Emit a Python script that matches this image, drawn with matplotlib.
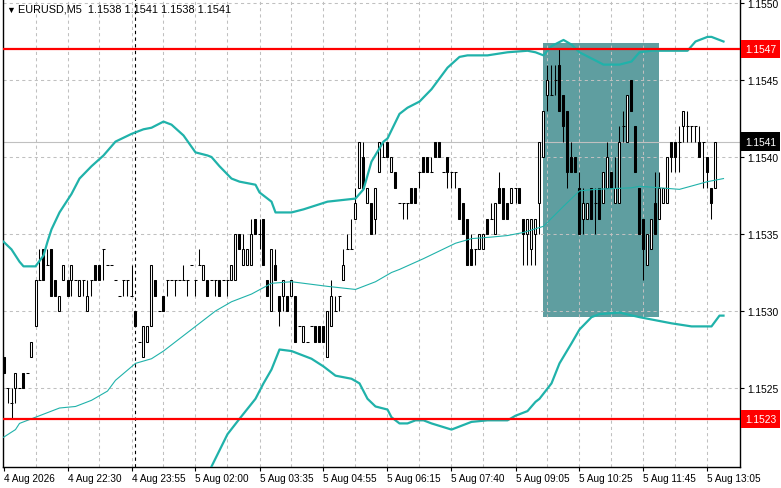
import matplotlib
matplotlib.use("Agg")
import matplotlib.pyplot as plt
import matplotlib.transforms as mtransforms
from matplotlib.patches import Rectangle

plt.rcParams["font.family"] = ["Liberation Sans", "DejaVu Sans"]
plt.rcParams["font.size"] = 7

# === data: EURUSD M5 bars (index = bar number) ===
opens = [
    1.1527, 1.1525, 1.1524, 1.1525, 1.1525, 1.1526, 1.1526, 1.1527, 1.1529, 1.1532,
    1.1534, 1.1533, 1.1534, 1.1532, 1.1530, 1.1532, 1.1532, 1.1532, 1.1532, 1.1531,
    1.1532, 1.1530, 1.1532, 1.1533, 1.1533, 1.1534, 1.1533, 1.1533, 1.1532, 1.1531,
    1.1532, 1.1532, 1.1531, 1.1530, 1.1528, 1.1527, 1.1528, 1.1529, 1.1532, 1.1530,
    1.1531, 1.1532, 1.1532, 1.1532, 1.1532, 1.1532, 1.1532, 1.1533, 1.1532, 1.1533,
    1.1532, 1.1532, 1.1532, 1.1532, 1.1532, 1.1532, 1.1532, 1.1532, 1.1532, 1.1535,
    1.1533, 1.1533, 1.1533, 1.1536, 1.1535, 1.1536, 1.1532, 1.1530, 1.1533, 1.1531,
    1.1531, 1.1531, 1.1531, 1.1531, 1.1529, 1.1528, 1.1528, 1.1529, 1.1529, 1.1529,
    1.1529, 1.1527, 1.1529, 1.1530, 1.1531, 1.1532, 1.1534, 1.1534, 1.1536, 1.1538,
    1.1540, 1.1537, 1.1537, 1.1536, 1.1539, 1.1540, 1.1541, 1.1539, 1.1539, 1.1537,
    1.1537, 1.1537, 1.1538, 1.1538, 1.1539, 1.1540, 1.1540, 1.1539, 1.1541, 1.1541,
    1.1539, 1.1540, 1.1539, 1.1539, 1.1538, 1.1537, 1.1536, 1.1534, 1.1534, 1.1534,
    1.1534, 1.1536, 1.1536, 1.1535, 1.1538, 1.1538, 1.1537, 1.1537, 1.1538, 1.1538,
    1.1536, 1.1535, 1.1534, 1.1535, 1.1537, 1.1540, 1.1544, 1.1544, 1.1545, 1.1546,
    1.1544, 1.1543, 1.1540, 1.1540, 1.1538, 1.1536, 1.1536, 1.1538, 1.1537, 1.1538,
    1.1537, 1.1538, 1.1539, 1.1537, 1.1537, 1.1542, 1.1541, 1.1545, 1.1542, 1.1538,
    1.1536, 1.1533, 1.1534, 1.1537, 1.1536, 1.1537, 1.1537, 1.1541, 1.1541, 1.1541,
    1.1542, 1.1542, 1.1542, 1.1542, 1.1541, 1.1541, 1.1540, 1.1538, 1.1538,
]
highs = [
    1.1527, 1.1525, 1.1525, 1.1526, 1.1525, 1.1526, 1.1526, 1.1528, 1.1532, 1.1534,
    1.1534, 1.1534, 1.1534, 1.1532, 1.1531, 1.1533, 1.1532, 1.1533, 1.1532, 1.1532,
    1.1532, 1.1532, 1.1532, 1.1533, 1.1533, 1.1534, 1.1533, 1.1533, 1.1532, 1.1531,
    1.1532, 1.1532, 1.1533, 1.1530, 1.1528, 1.1529, 1.1529, 1.1533, 1.1532, 1.1530,
    1.1531, 1.1532, 1.1532, 1.1532, 1.1532, 1.1533, 1.1532, 1.1533, 1.1532, 1.1534,
    1.1533, 1.1532, 1.1532, 1.1532, 1.1532, 1.1532, 1.1532, 1.1533, 1.1535, 1.1535,
    1.1535, 1.1534, 1.1536, 1.1536, 1.1536, 1.1536, 1.1532, 1.1534, 1.1534, 1.1531,
    1.1532, 1.1531, 1.1532, 1.1531, 1.1529, 1.1529, 1.1528, 1.1529, 1.1529, 1.1529,
    1.1529, 1.1530, 1.1532, 1.1531, 1.1531, 1.1534, 1.1535, 1.1536, 1.1538, 1.1541,
    1.1541, 1.1538, 1.1537, 1.1538, 1.1541, 1.1541, 1.1541, 1.1540, 1.1539, 1.1537,
    1.1537, 1.1537, 1.1538, 1.1538, 1.1539, 1.1540, 1.1540, 1.1540, 1.1541, 1.1541,
    1.1539, 1.1540, 1.1539, 1.1539, 1.1538, 1.1537, 1.1536, 1.1535, 1.1534, 1.1535,
    1.1535, 1.1536, 1.1537, 1.1537, 1.1539, 1.1538, 1.1537, 1.1538, 1.1538, 1.1538,
    1.1536, 1.1536, 1.1536, 1.1536, 1.1541, 1.1543, 1.1546, 1.1546, 1.1546, 1.1547,
    1.1544, 1.1543, 1.1541, 1.1540, 1.1539, 1.1538, 1.1537, 1.1538, 1.1538, 1.1538,
    1.1539, 1.1541, 1.1539, 1.1540, 1.1542, 1.1543, 1.1544, 1.1545, 1.1542, 1.1538,
    1.1536, 1.1535, 1.1536, 1.1539, 1.1539, 1.1538, 1.1540, 1.1541, 1.1541, 1.1542,
    1.1543, 1.1543, 1.1542, 1.1542, 1.1542, 1.1541, 1.1540, 1.1538, 1.1541,
]
lows = [
    1.1526, 1.1524, 1.1523, 1.1524, 1.1525, 1.1525, 1.1526, 1.1527, 1.1529, 1.1532,
    1.1532, 1.1533, 1.1531, 1.1531, 1.1530, 1.1532, 1.1531, 1.1531, 1.1532, 1.1531,
    1.1531, 1.1530, 1.1531, 1.1532, 1.1532, 1.1532, 1.1533, 1.1533, 1.1532, 1.1531,
    1.1531, 1.1531, 1.1531, 1.1529, 1.1528, 1.1527, 1.1528, 1.1529, 1.1531, 1.1530,
    1.1530, 1.1531, 1.1532, 1.1531, 1.1532, 1.1532, 1.1531, 1.1533, 1.1531, 1.1533,
    1.1532, 1.1531, 1.1532, 1.1531, 1.1531, 1.1532, 1.1531, 1.1532, 1.1532, 1.1534,
    1.1533, 1.1533, 1.1533, 1.1535, 1.1534, 1.1533, 1.1531, 1.1530, 1.1532, 1.1529,
    1.1530, 1.1530, 1.1531, 1.1528, 1.1529, 1.1528, 1.1528, 1.1529, 1.1528, 1.1528,
    1.1528, 1.1527, 1.1529, 1.1530, 1.1530, 1.1532, 1.1534, 1.1534, 1.1536, 1.1538,
    1.1538, 1.1537, 1.1535, 1.1535, 1.1539, 1.1540, 1.1540, 1.1539, 1.1538, 1.1537,
    1.1536, 1.1536, 1.1537, 1.1537, 1.1538, 1.1539, 1.1539, 1.1539, 1.1540, 1.1540,
    1.1539, 1.1538, 1.1538, 1.1538, 1.1536, 1.1535, 1.1533, 1.1533, 1.1533, 1.1534,
    1.1534, 1.1535, 1.1536, 1.1535, 1.1537, 1.1536, 1.1536, 1.1537, 1.1537, 1.1537,
    1.1533, 1.1533, 1.1533, 1.1533, 1.1535, 1.1540, 1.1543, 1.1544, 1.1544, 1.1543,
    1.1541, 1.1538, 1.1539, 1.1539, 1.1535, 1.1535, 1.1536, 1.1536, 1.1535, 1.1536,
    1.1537, 1.1538, 1.1538, 1.1537, 1.1537, 1.1541, 1.1541, 1.1543, 1.1539, 1.1535,
    1.1532, 1.1533, 1.1534, 1.1535, 1.1536, 1.1537, 1.1537, 1.1539, 1.1539, 1.1539,
    1.1541, 1.1541, 1.1541, 1.1541, 1.1540, 1.1538, 1.1538, 1.1536, 1.1538,
]
closes = [
    1.1526, 1.1525, 1.1524, 1.1526, 1.1525, 1.1525, 1.1526, 1.1528, 1.1532, 1.1532,
    1.1532, 1.1533, 1.1531, 1.1531, 1.1531, 1.1533, 1.1531, 1.1533, 1.1532, 1.1532,
    1.1532, 1.1531, 1.1532, 1.1532, 1.1532, 1.1534, 1.1533, 1.1533, 1.1532, 1.1531,
    1.1532, 1.1532, 1.1531, 1.1529, 1.1528, 1.1529, 1.1529, 1.1533, 1.1531, 1.1530,
    1.1530, 1.1532, 1.1532, 1.1532, 1.1532, 1.1532, 1.1532, 1.1533, 1.1532, 1.1533,
    1.1533, 1.1531, 1.1532, 1.1532, 1.1531, 1.1532, 1.1532, 1.1533, 1.1535, 1.1534,
    1.1534, 1.1534, 1.1535, 1.1535, 1.1535, 1.1533, 1.1531, 1.1534, 1.1532, 1.1530,
    1.1532, 1.1530, 1.1532, 1.1528, 1.1529, 1.1529, 1.1528, 1.1529, 1.1528, 1.1528,
    1.1528, 1.1530, 1.1531, 1.1530, 1.1531, 1.1533, 1.1534, 1.1534, 1.1537, 1.1541,
    1.1538, 1.1538, 1.1535, 1.1538, 1.1541, 1.1540, 1.1540, 1.1540, 1.1538, 1.1537,
    1.1537, 1.1537, 1.1537, 1.1537, 1.1539, 1.1539, 1.1539, 1.1539, 1.1540, 1.1540,
    1.1539, 1.1539, 1.1539, 1.1539, 1.1536, 1.1535, 1.1533, 1.1533, 1.1534, 1.1535,
    1.1535, 1.1535, 1.1536, 1.1537, 1.1537, 1.1536, 1.1536, 1.1538, 1.1538, 1.1537,
    1.1535, 1.1536, 1.1536, 1.1536, 1.1541, 1.1543, 1.1545, 1.1544, 1.1545, 1.1543,
    1.1542, 1.1539, 1.1539, 1.1539, 1.1535, 1.1537, 1.1537, 1.1536, 1.1537, 1.1536,
    1.1539, 1.1540, 1.1538, 1.1538, 1.1541, 1.1542, 1.1544, 1.1543, 1.1539, 1.1535,
    1.1534, 1.1535, 1.1536, 1.1535, 1.1538, 1.1538, 1.1540, 1.1540, 1.1540, 1.1541,
    1.1543, 1.1542, 1.1542, 1.1542, 1.1540, 1.1541, 1.1539, 1.1537, 1.1541,
]

# Bollinger bands (bar index / price)
upper_x = [0, 2, 4, 5, 8, 10, 11, 12, 14, 17, 19, 22, 25, 28, 32, 35, 37, 40, 42, 45,
           48, 51, 52, 54, 57, 59, 63, 64, 67, 68, 72, 75, 81, 88, 90, 92, 95, 96, 99, 101,
           104, 107, 111, 114, 116, 121, 126, 131, 133, 135, 137, 140, 142, 144, 147, 150,
           154, 157, 159, 162, 165, 171, 173, 176, 177, 180]
upper_y = [1.15345, 1.15340, 1.15332, 1.15329, 1.15329, 1.15336, 1.15345, 1.15353, 1.15364, 1.15376,
           1.15386, 1.15394, 1.15401, 1.15410, 1.15415, 1.15418, 1.15419, 1.15423, 1.15421, 1.15414,
           1.15403, 1.15401, 1.15400, 1.15394, 1.15386, 1.15384, 1.15382, 1.15377, 1.15371, 1.15364,
           1.15364, 1.15366, 1.15371, 1.15373, 1.15379, 1.15397, 1.15410, 1.15412, 1.15428, 1.15432,
           1.15436, 1.15444, 1.15458, 1.15465, 1.15466, 1.15466, 1.15468, 1.15469, 1.15468, 1.15466,
           1.15472, 1.15476, 1.15473, 1.15468, 1.15464, 1.15460, 1.15460, 1.15462, 1.15468, 1.15469,
           1.15469, 1.15469, 1.15475, 1.15478, 1.15478, 1.15475]

middle_x = [0, 3, 4, 8, 14, 18, 22, 26, 28, 33, 37, 40, 44, 48, 53, 57, 62, 67, 72, 81,
            88, 93, 97, 99, 105, 113, 117, 122, 126, 130, 135, 140, 144, 148, 157, 159,
            169, 176, 180]
middle_y = [1.15218, 1.15223, 1.15227, 1.15231, 1.15237, 1.15238, 1.15242, 1.15248, 1.15255, 1.15266,
            1.15269, 1.15274, 1.15282, 1.15290, 1.15300, 1.15306, 1.15311, 1.15318, 1.15319, 1.15316,
            1.15314, 1.15319, 1.15325, 1.15327, 1.15334, 1.15344, 1.15347, 1.15348, 1.15349, 1.15351,
            1.15355, 1.15368, 1.15378, 1.15379, 1.15380, 1.15381, 1.15379, 1.15384, 1.15386]

lower_x = [49, 52, 56, 59, 63, 65, 67, 69, 72, 77, 80, 83, 87, 89, 91, 93, 96, 97, 99, 101,
           103, 105, 107, 112, 114, 117, 121, 126, 128, 131, 133, 134, 137, 139, 142, 144,
           147, 149, 154, 159, 163, 167, 172, 177, 179, 180]
lower_y = [1.15178, 1.15199, 1.15220, 1.15230, 1.15243, 1.15253, 1.15262, 1.15275, 1.15274, 1.15269,
           1.15264, 1.15258, 1.15256, 1.15253, 1.15243, 1.15238, 1.15236, 1.15231, 1.15227, 1.15227,
           1.15229, 1.15229, 1.15227, 1.15223, 1.15225, 1.15228, 1.15229, 1.15229, 1.15232, 1.15235,
           1.15241, 1.15243, 1.15253, 1.15266, 1.15279, 1.15288, 1.15296, 1.15298, 1.15299, 1.15296,
           1.15294, 1.15292, 1.15290, 1.15290, 1.15297, 1.15297]

time_labels = ["4 Aug 2026", "4 Aug 22:30", "4 Aug 23:55", "5 Aug 02:00", "5 Aug 03:35",
               "5 Aug 04:55", "5 Aug 06:15", "5 Aug 07:40", "5 Aug 09:05", "5 Aug 10:25",
               "5 Aug 11:45", "5 Aug 13:05"]
time_label_bars = [0, 16, 32, 48, 64, 80, 96, 112, 128, 144, 160, 176]
price_ticks = [1.1525, 1.1530, 1.1535, 1.1540, 1.1545, 1.1550]

resistance = 1.1547
support = 1.1523
bid = 1.1541
day_separator_bar = 33
box_bars = (135, 164)
box_prices = (1.15296, 1.15474)

# === figure ===
fig = plt.figure(figsize=(7.81, 4.89), dpi=100)
ax = fig.add_axes([3 / 781, 21 / 489, 737 / 781, 468 / 489])
ax.set_xlim(-0.125, 184.125)
ax.set_ylim(1.151987, 1.155026)

# grid
for p in price_ticks:
    ax.axhline(p, color="#c0c0c0", lw=0.75, ls=(0, (3, 3)), zorder=1.5)
for b in range(8, 184, 8):
    ax.axvline(b, color="#c0c0c0", lw=0.75, ls=(0, (3, 3)), zorder=1.5)

# highlighted zone
ax.add_patch(Rectangle((box_bars[0], box_prices[0]), box_bars[1] - box_bars[0],
                       box_prices[1] - box_prices[0], fc="#5f9ea0", ec="none", zorder=1))

ax.axhline(bid, color="#c0c0c0", lw=0.8, zorder=1.6)
ax.axvline(day_separator_bar, color="black", lw=0.8, ls=(0, (3, 3)), zorder=1.7)

# candles
idx = list(range(len(opens)))
ax.vlines(idx, lows, highs, color="black", lw=0.75, zorder=3)
for i, o, c in zip(idx, opens, closes):
    if c > o:
        ax.bar(i, c - o, bottom=o, width=0.5, color="white", edgecolor="black", lw=0.75, zorder=4)
    elif c < o:
        ax.bar(i, o - c, bottom=c, width=0.5, color="black", edgecolor="black", lw=0.75, zorder=4)
    else:
        ax.hlines(o, i - 0.35, i + 0.35, color="black", lw=0.75, zorder=4)

# bands
band_col = "#20b2aa"
ax.plot(upper_x, upper_y, color=band_col, lw=1.6, zorder=5)
ax.plot(lower_x, lower_y, color=band_col, lw=1.6, zorder=5)
ax.plot(middle_x, middle_y, color=band_col, lw=0.8, zorder=5)

# levels
ax.axhline(resistance, color="red", lw=1.6, zorder=6)
ax.axhline(support, color="red", lw=1.6, zorder=6)

# axes styling
for side in ["left", "bottom", "right"]:
    ax.spines[side].set_color("black")
    ax.spines[side].set_linewidth(1.0)
ax.spines["top"].set_visible(False)

ax.yaxis.tick_right()
ax.set_yticks(price_ticks)
ax.set_yticklabels([f"{p:.4f}" for p in price_ticks])
ax.tick_params(axis="y", direction="out", length=3, width=0.8, pad=2, labelsize=7.4)

ax.set_xticks(time_label_bars)
ax.set_xticklabels(time_labels, ha="left")
ax.tick_params(axis="x", direction="out", length=3, width=0.8, pad=1, labelsize=7.2)
ax.grid(False)

# price tags on the right
trans = mtransforms.blended_transform_factory(fig.transFigure, ax.transData)
for p, col in [(resistance, "red"), (support, "red"), (bid, "black")]:
    ax.text(745 / 781, p, f"{p:.4f}", transform=trans, ha="left", va="center",
            color="white", fontsize=7.4, clip_on=False, zorder=10,
            bbox=dict(boxstyle="square,pad=0.4", fc=col, ec="none"))

# header
fig.text(6 / 781, 1 - 10 / 489, "▼", fontsize=6.5, va="center", ha="left")
fig.text(18 / 781, 1 - 10 / 489, "EURUSD,M5  1.1538 1.1541 1.1538 1.1541",
         fontsize=7.8, va="center", ha="left", color="black")

fig.savefig("out.png", dpi=100)
